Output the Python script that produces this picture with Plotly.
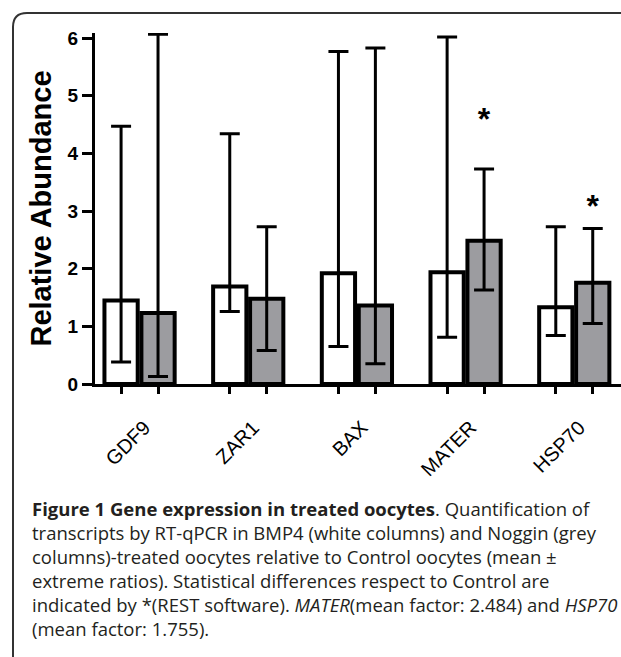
import plotly.graph_objects as go

# ---- data ----
genes = ["GDF9", "ZAR1", "BAX", "MATER", "HSP70"]
bmp4_mean = [1.45, 1.69, 1.92, 1.94, 1.33]
bmp4_low = [0.38, 1.26, 0.65, 0.81, 0.84]
bmp4_high = [4.47, 4.34, 5.77, 6.02, 2.73]
noggin_mean = [1.23, 1.48, 1.36, 2.484, 1.755]
noggin_low = [0.13, 0.58, 0.35, 1.63, 1.05]
noggin_high = [6.07, 2.73, 5.83, 3.73, 2.70]
star_genes = ["MATER", "HSP70"]
star_y = [4.55, 3.03]
y_ticks = [0, 1, 2, 3, 4, 5, 6]

caption_lines = [
    "<b>Figure 1 Gene expression in treated oocytes</b>. Quantification of",
    "transcripts by RT-qPCR in BMP4 (white columns) and Noggin (grey",
    "columns)-treated oocytes relative to Control oocytes (mean ±",
    "extreme ratios). Statistical differences respect to Control are",
    "indicated by *(REST software). <i>MATER</i>(mean factor: 2.484) and <i>HSP70</i>",
    "(mean factor: 1.755).",
]

W, H = 621, 657
ML, MR, MT, MB = 95, 0, 33, 273
BARGAP, GROUPGAP = 0.32, 0.10
XR = [-0.41, 4.43]
YR = [0, 6.09]
off = (1 - BARGAP) / 4

def px2paper(px, py):
    return ((px - ML) / (W - ML - MR), (H - MB - py) / (H - MT - MB))

fig = go.Figure()
fig.add_trace(go.Bar(
    x=genes, y=bmp4_mean, name="BMP4",
    marker=dict(color="white", line=dict(color="black", width=4)),
    error_y=dict(type="data", symmetric=False,
                 array=[h - m for h, m in zip(bmp4_high, bmp4_mean)],
                 arrayminus=[m - l for m, l in zip(bmp4_mean, bmp4_low)],
                 color="black", thickness=3, width=10),
))
fig.add_trace(go.Bar(
    x=genes, y=noggin_mean, name="Noggin",
    marker=dict(color="#9c9ca0", line=dict(color="black", width=4)),
    error_y=dict(type="data", symmetric=False,
                 array=[h - m for h, m in zip(noggin_high, noggin_mean)],
                 arrayminus=[m - l for m, l in zip(noggin_mean, noggin_low)],
                 color="black", thickness=3, width=10),
))
fig.add_trace(go.Scatter(
    x=[genes.index(g) + off for g in star_genes], y=star_y,
    xaxis="x2", mode="text", text=["*"] * len(star_genes),
    textfont=dict(family="Arial, Liberation Sans", size=32, color="black", weight="bold"),
    textposition="middle center", hoverinfo="skip",
))

tickpos = []
for i in range(len(genes)):
    tickpos += [i - off, i + off]

fig.update_layout(
    width=W, height=H,
    margin=dict(l=ML, r=MR, t=MT, b=MB),
    paper_bgcolor="white", plot_bgcolor="white",
    showlegend=False,
    barmode="group", bargap=BARGAP, bargroupgap=GROUPGAP,
    font=dict(family="Arial, Liberation Sans", color="black"),
    xaxis=dict(range=XR, showline=True, linewidth=3, linecolor="black",
               ticks="", tickangle=-45, showgrid=False,
               ticklabelshift=5, ticklabelstandoff=21,
               tickfont=dict(family="Liberation Sans, Arial", size=20, color="black")),
    xaxis2=dict(overlaying="x", anchor="y", side="bottom", range=XR,
                tickvals=tickpos, showticklabels=False, ticks="outside",
                ticklen=9, tickwidth=3, tickcolor="black", showline=False,
                showgrid=False, zeroline=False),
    yaxis=dict(range=YR, showline=True, linewidth=3, linecolor="black",
               ticks="outside", ticklen=10, tickwidth=3, tickcolor="black",
               tickvals=y_ticks, showgrid=False, zeroline=False,
               tickfont=dict(family="Arial, Liberation Sans", size=19, color="black", weight="bold"),
               title=dict(text="<b>Relative Abundance</b>",
                          font=dict(family="Arial, Liberation Sans", size=29, color="black"),
                          standoff=8)),
)

# rounded frame
x0, ytop = px2paper(13, 13)
xr, ybot = px2paper(640, 680)
xc, yc = px2paper(13 + 14, 13 + 14)
fig.add_shape(type="path", xref="paper", yref="paper",
              path=f"M {x0},{ybot} L {x0},{yc} Q {x0},{ytop} {xc},{ytop} L {xr},{ytop}",
              line=dict(color="#333333", width=2))

# caption (one multi-line text block)
cx, cy = px2paper(30, 493.5)
fig.add_annotation(x=cx, y=cy, xref="paper", yref="paper",
                   xanchor="left", yanchor="top", showarrow=False,
                   text="<br>".join(caption_lines), align="left",
                   font=dict(family="Open Sans", size=18.5, color="#231f20"))

fig.write_html("out.html", config={"displayModeBar": False},
               post_script="document.body.style.margin='0';")
